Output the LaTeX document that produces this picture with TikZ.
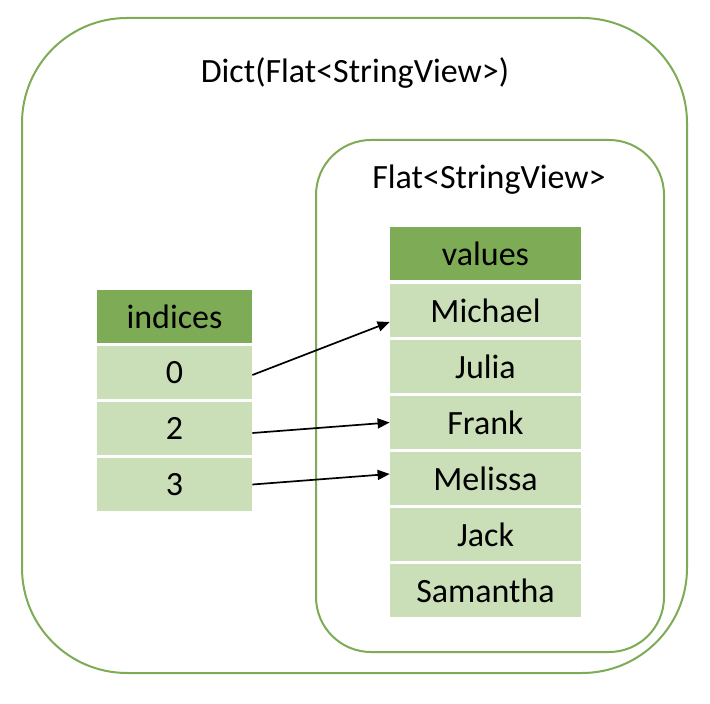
\documentclass[tikz,border=0pt]{standalone}
\usepackage{fontspec}
\setmainfont{Carlito}
\usepackage{tikz}
\usepackage{xcolor}
\usetikzlibrary{positioning,shapes,arrows,arrows.meta}

\definecolor{frameGreen}{HTML}{7EAB55}
\definecolor{headGreen}{HTML}{7EAB55}
\definecolor{cellGreen}{HTML}{CADFB8}

\begin{document}
\begin{tikzpicture}[x=0.5pt,y=-0.5pt]
\tikzstyle{every node}+=[inner sep=0pt,font=\fontsize{17}{20}\selectfont]
\tikzstyle{frame}=[draw=frameGreen,line width=1pt]
\tikzstyle{head}=[fill=headGreen,minimum height=26.5pt]
\tikzstyle{cell}=[fill=cellGreen,minimum height=26.5pt]
\tikzstyle{idx}=[minimum width=77.5pt]
\tikzstyle{val}=[minimum width=95.5pt]
\tikzstyle{link}=[black,line width=0.85pt,-{Triangle[length=6pt,width=5pt]}]
\useasboundingbox (0,0) rectangle (710,704);
% containers
\draw [frame,rounded corners=52.5pt] (22,18) rectangle (687,673);
\draw [frame,rounded corners=27.5pt] (316,140) rectangle (664,652);
\node (dict) at (355,73) {Dict(Flat<StringView>)};
\node (flat) at (489,180) {Flat<StringView>};
% indices
\node [head,idx] (ih) at (174.5,316.5) {indices};
\node [cell,idx] (i0) at (174.5,372.5) {0};
\node [cell,idx] (i2) at (174.5,428.5) {2};
\node [cell,idx] (i3) at (174.5,484.5) {3};
% values
\node [head,val] (vh) at (485.5,254) {values};
\node [cell,val] (v0) at (485.5,310.5) {Michael};
\node [cell,val] (v1) at (485.5,366.5) {Julia};
\node [cell,val] (v2) at (485.5,422.5) {Frank};
\node [cell,val] (v3) at (485.5,478.5) {Melissa};
\node [cell,val] (v4) at (485.5,534.5) {Jack};
\node [cell,val] (v5) at (485.5,590.5) {Samantha};
% links
\draw [link] ([yshift=-1.25pt]i0.east) -- ([yshift=-5.75pt]v0.west);
\draw [link] ([yshift=-2.25pt]i2.east) -- (v2.west);
\draw [link] (i3.east) -- ([yshift=2.25pt]v3.west);
\end{tikzpicture}
\end{document}
